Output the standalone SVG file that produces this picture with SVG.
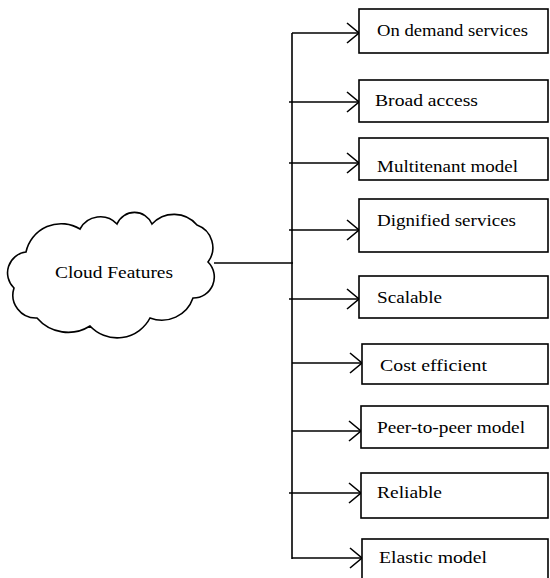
<svg xmlns="http://www.w3.org/2000/svg" width="550" height="578" viewBox="0 0 550 578">
<style>
.box{fill:#fff;stroke:#000;stroke-width:1.6}
.lbl{font-family:"Liberation Serif","Times New Roman",serif;font-size:17px;fill:#000}
.con{fill:none;stroke:#000;stroke-width:1.6}
</style>
<defs>
<marker id="arr" markerUnits="userSpaceOnUse" markerWidth="16" markerHeight="24" refX="0" refY="0" viewBox="-14 -12 16 24" orient="auto" overflow="visible">
<path d="M-12,-10 L0,0 L-12,10" fill="none" stroke="#000" stroke-width="1.6"/>
</marker>
</defs>
<rect width="550" height="578" fill="#fff"/>
<g id="cloud">
<path class="con" d="M26,252 A36,36 0 0 1 80,229 A23,23 0 0 1 117,224 A19,19 0 0 1 152,224 A30,30 0 0 1 197,225 A24,24 0 0 1 208,262 A21,21 0 0 1 193,298 A33,33 0 0 1 150,318 A37,37 0 0 1 90,326 A41,41 0 0 1 37,318 A23,23 0 0 1 14,288 A21,21 0 0 1 26,252 Z"/>
<text class="lbl" x="55" y="278" font-size="18" textLength="118" lengthAdjust="spacingAndGlyphs">Cloud Features</text>
</g>
<g id="connectors">
<line class="con" x1="214" y1="263" x2="293" y2="263"/>
<line class="con" x1="292" y1="33" x2="292" y2="559"/>
<line class="con" x1="292" y1="33" x2="359" y2="33" marker-end="url(#arr)"/>
<line class="con" x1="289" y1="102" x2="359" y2="102" marker-end="url(#arr)"/>
<line class="con" x1="289" y1="163" x2="359" y2="163" marker-end="url(#arr)"/>
<line class="con" x1="289" y1="230" x2="359" y2="230" marker-end="url(#arr)"/>
<line class="con" x1="289" y1="299" x2="359" y2="299" marker-end="url(#arr)"/>
<line class="con" x1="292" y1="363" x2="362" y2="363" marker-end="url(#arr)"/>
<line class="con" x1="292" y1="431" x2="361" y2="431" marker-end="url(#arr)"/>
<line class="con" x1="289" y1="493" x2="361" y2="493" marker-end="url(#arr)"/>
<line class="con" x1="292" y1="558" x2="362" y2="558" marker-end="url(#arr)"/>
</g>
<g id="n1"><rect class="box" x="359" y="9" width="189" height="44"/><text class="lbl" x="377" y="36" textLength="151" lengthAdjust="spacingAndGlyphs">On demand services</text></g>
<g id="n2"><rect class="box" x="359" y="80" width="189" height="42"/><text class="lbl" x="375" y="106" textLength="103" lengthAdjust="spacingAndGlyphs">Broad access</text></g>
<g id="n3"><rect class="box" x="359" y="138" width="189" height="42"/><text class="lbl" x="377" y="172" textLength="141" lengthAdjust="spacingAndGlyphs">Multitenant model</text></g>
<g id="n4"><rect class="box" x="359" y="199" width="189" height="53"/><text class="lbl" x="377" y="226" textLength="139" lengthAdjust="spacingAndGlyphs">Dignified services</text></g>
<g id="n5"><rect class="box" x="359" y="276" width="189" height="42"/><text class="lbl" x="377" y="303" textLength="65" lengthAdjust="spacingAndGlyphs">Scalable</text></g>
<g id="n6"><rect class="box" x="362" y="344" width="186" height="40"/><text class="lbl" x="380" y="371" textLength="107" lengthAdjust="spacingAndGlyphs">Cost efficient</text></g>
<g id="n7"><rect class="box" x="361" y="406" width="187" height="42"/><text class="lbl" x="377" y="433" textLength="148" lengthAdjust="spacingAndGlyphs">Peer-to-peer model</text></g>
<g id="n8"><rect class="box" x="361" y="473" width="187" height="45"/><text class="lbl" x="377" y="498" textLength="65" lengthAdjust="spacingAndGlyphs">Reliable</text></g>
<g id="n9"><rect class="box" x="362" y="539" width="186" height="50"/><text class="lbl" x="379" y="563" textLength="108" lengthAdjust="spacingAndGlyphs">Elastic model</text></g>
</svg>
